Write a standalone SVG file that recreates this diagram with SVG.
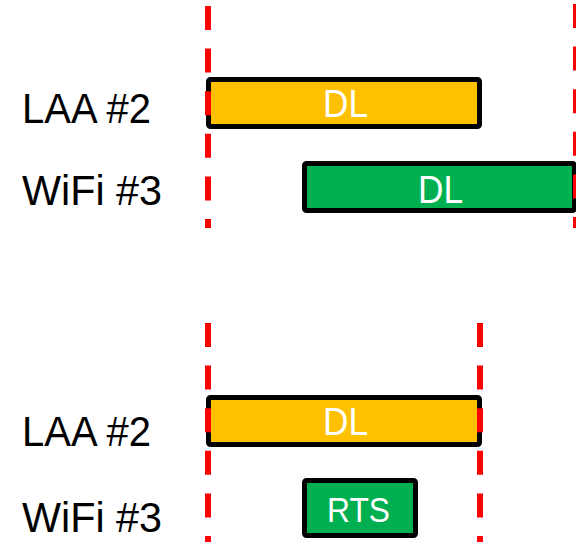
<svg xmlns="http://www.w3.org/2000/svg" width="576" height="542" viewBox="0 0 576 542">
<style>
.lbl{font-family:"Liberation Sans",Arial,sans-serif;font-size:42px;fill:#000}
.btxt{font-family:"Liberation Sans",Arial,sans-serif;fill:#fff;text-anchor:middle}
.box{stroke:#000;stroke-width:5}
.laa{fill:#FFC000}
.wifi{fill:#00B050}
.dash{stroke:#FF0000;stroke-width:6;stroke-dasharray:24 18.6;fill:none}
</style>
<rect width="576" height="542" fill="#fff"/>
<g id="top-labels">
<text class="lbl" x="22" y="123" textLength="129" lengthAdjust="spacingAndGlyphs">LAA #2</text>
<text class="lbl" x="22" y="205" textLength="140" lengthAdjust="spacingAndGlyphs">WiFi #3</text>
</g>
<g id="top-laa-dl">
<rect class="box laa" x="208.5" y="79.5" width="271" height="47" rx="2"/>
<text class="btxt" x="345.5" y="117" font-size="38" textLength="45" lengthAdjust="spacingAndGlyphs">DL</text>
</g>
<g id="top-wifi-dl">
<rect class="box wifi" x="304.5" y="163.5" width="270" height="47" rx="2"/>
<text class="btxt" x="440.5" y="203" font-size="38" textLength="45" lengthAdjust="spacingAndGlyphs">DL</text>
</g>
<g id="bottom-labels">
<text class="lbl" x="22" y="446" textLength="129" lengthAdjust="spacingAndGlyphs">LAA #2</text>
<text class="lbl" x="22" y="532" textLength="140" lengthAdjust="spacingAndGlyphs">WiFi #3</text>
</g>
<g id="bottom-laa-dl">
<rect class="box laa" x="208.5" y="397.5" width="271" height="47" rx="2"/>
<text class="btxt" x="345.5" y="435" font-size="38" textLength="45" lengthAdjust="spacingAndGlyphs">DL</text>
</g>
<g id="bottom-wifi-rts">
<rect class="box wifi" x="304.5" y="480.5" width="111" height="55" rx="2"/>
<text class="btxt" x="358.5" y="522" font-size="35" textLength="63" lengthAdjust="spacingAndGlyphs">RTS</text>
</g>
<g id="connectors">
<line class="dash" x1="208" y1="6" x2="208" y2="228"/>
<line class="dash" x1="576" y1="4" x2="576" y2="228"/>
<line class="dash" x1="208" y1="323" x2="208" y2="542"/>
<line class="dash" x1="480" y1="323" x2="480" y2="542"/>
</g>
</svg>
